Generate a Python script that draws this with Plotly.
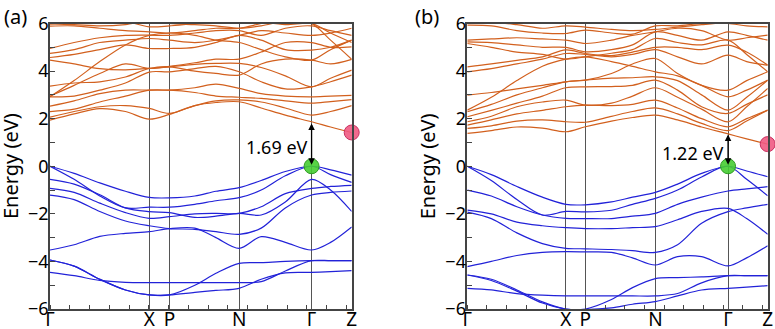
import plotly.graph_objects as go

# ---------------- data ----------------
# k-path sample positions (fraction of path length)
k_a = [0, 0.08, 0.165, 0.25, 0.329, 0.396, 0.48, 0.55, 0.627, 0.70, 0.78, 0.867, 0.93, 1.0]
k_b = [0, 0.08, 0.165, 0.25, 0.328, 0.393, 0.48, 0.55, 0.626, 0.70, 0.78, 0.868, 0.93, 1.0]
sym_idx = [0, 4, 5, 8, 11, 13]
sym_labels = ["Γ", "X", "P", "N", "Γ", "Z"]

# panel (a) valence bands (eV)
val_a = [
    [0, -0.3, -0.7, -1.05, -1.31, -1.33, -1.25, -1.05, -0.9, -0.6, -0.22, 0, -0.15, -0.37],
    [0, -0.55, -1.25, -1.75, -1.72, -1.72, -1.6, -1.45, -1.32, -1.0, -0.4, 0, -0.35, -0.68],
    [-0.55, -0.75, -1.2, -1.75, -1.91, -1.95, -2.15, -2.1, -1.98, -2.05, -1.5, -0.55, -1.0, -1.9],
    [-0.93, -1.1, -1.55, -1.95, -2.19, -2.12, -2.0, -1.98, -1.98, -1.7, -1.15, -0.93, -0.85, -0.8],
    [-1.21, -1.4, -1.9, -2.3, -2.5, -2.62, -2.65, -2.75, -2.86, -2.6, -1.75, -1.21, -1.1, -1.04],
    [-3.52, -3.3, -2.95, -2.82, -2.75, -2.62, -2.6, -3.0, -3.45, -2.96, -3.2, -3.52, -3.2, -2.55],
    [-3.94, -4.2, -4.75, -5.2, -5.41, -5.41, -5.0, -4.5, -4.08, -4.05, -4.0, -3.97, -3.97, -3.97],
    [-3.94, -4.2, -4.75, -5.2, -5.41, -5.41, -5.3, -5.22, -5.13, -4.75, -4.48, -4.46, -4.43, -4.39],
    [-4.46, -4.6, -4.8, -4.88, -4.89, -4.89, -4.89, -4.89, -4.89, -4.85, -4.4, -3.97, -3.97, -3.97],
]
# panel (a) conduction bands (eV)
con_a = [
    [1.94, 2.2, 2.42, 2.3, 1.98, 2.18, 2.55, 2.68, 2.71, 2.45, 2.15, 1.87, 1.65, 1.42],
    [2.06, 2.3, 2.5, 2.55, 2.43, 2.22, 2.55, 2.75, 2.79, 2.7, 2.45, 2.15, 2.3, 2.55],
    [2.3, 2.4, 2.7, 2.95, 3.2, 3.2, 3.1, 2.95, 2.9, 2.85, 2.75, 2.65, 2.72, 2.8],
    [2.53, 2.75, 3.05, 3.2, 3.2, 3.2, 3.3, 3.45, 3.27, 3.05, 2.95, 2.92, 2.95, 2.98],
    [2.92, 2.95, 3.2, 3.5, 3.96, 3.97, 4.1, 4.2, 3.97, 3.55, 3.25, 3.34, 3.55, 3.83],
    [2.95, 3.4, 3.9, 4.3, 4.11, 4.18, 4.28, 4.32, 4.32, 4.15, 3.8, 3.34, 3.7, 4.04],
    [3.37, 3.5, 3.55, 3.75, 4.11, 4.18, 4.0, 3.9, 3.83, 4.3, 4.5, 4.46, 4.3, 4.49],
    [2.92, 3.6, 4.4, 5.1, 5.5, 5.6, 5.5, 5.3, 5.2, 4.9, 4.6, 4.46, 4.9, 5.3],
    [4.46, 4.3, 4.1, 4.05, 4.11, 4.2, 4.35, 4.5, 4.5, 4.8, 5.2, 5.2, 5.0, 5.02],
    [4.57, 4.7, 4.9, 5.1, 4.95, 4.95, 5.0, 5.2, 5.5, 5.3, 4.9, 4.88, 5.0, 5.3],
    [4.74, 4.9, 5.2, 5.3, 5.37, 5.3, 5.2, 5.3, 5.5, 5.7, 5.6, 5.5, 5.6, 5.8],
    [4.95, 5.2, 5.4, 5.5, 5.51, 5.5, 5.6, 5.7, 5.7, 5.5, 5.8, 5.9, 5.7, 5.5],
    [5.89, 5.9, 5.8, 5.7, 5.65, 5.6, 5.7, 5.8, 5.8, 6.0, 6.2, 6.0, 5.3, 4.5],
    [5.98, 6.1, 6.3, 6.1, 5.86, 5.9, 6.0, 6.2, 6.3, 6.1, 5.95, 6.0, 5.6, 5.2],
    [5.98, 5.95, 5.9, 5.95, 6.1, 6.0, 5.95, 5.9, 5.8, 5.9, 6.1, 6.1, 6.2, 6.0],
]
# panel (b) valence bands (eV)
val_b = [
    [0, -0.35, -0.85, -1.3, -1.6, -1.62, -1.5, -1.3, -1.1, -0.75, -0.3, 0, -0.2, -0.44],
    [0, -0.6, -1.4, -2.05, -1.9, -1.92, -1.85, -1.6, -1.35, -1.0, -0.45, 0, -0.55, -1.24],
    [-1.0, -1.25, -1.7, -2.05, -2.19, -2.2, -2.2, -2.1, -1.98, -1.6, -1.3, -1.04, -0.95, -0.86],
    [-1.84, -2.0, -2.35, -2.5, -2.58, -2.62, -2.62, -2.58, -2.54, -2.25, -1.9, -1.77, -2.2, -2.86],
    [-1.93, -2.2, -2.8, -3.25, -3.45, -3.47, -3.5, -3.55, -3.62, -3.3, -2.4, -1.91, -1.75, -1.6],
    [-4.22, -4.0, -3.75, -3.62, -3.59, -3.6, -3.62, -3.85, -4.15, -3.8, -3.8, -4.19, -3.85, -3.34],
    [-4.57, -4.75, -5.2, -5.7, -6.0, -6.0, -5.6, -5.1, -4.72, -4.68, -4.65, -4.6, -4.6, -4.6],
    [-4.57, -4.8, -5.25, -5.75, -6.0, -6.02, -5.95, -5.8, -5.69, -5.45, -5.2, -5.13, -5.08, -5.02],
    [-5.13, -5.2, -5.35, -5.42, -5.45, -5.45, -5.45, -5.45, -5.45, -5.35, -4.9, -4.6, -4.6, -4.6],
]
# panel (b) conduction bands (eV)
con_b = [
    [1.38, 1.5, 1.65, 1.6, 1.45, 1.66, 1.9, 2.05, 2.15, 1.95, 1.65, 1.36, 1.15, 0.93],
    [1.59, 1.7, 1.9, 1.95, 1.87, 1.85, 2.1, 2.3, 2.45, 2.2, 1.8, 1.5, 1.9, 2.36],
    [1.73, 1.95, 2.2, 2.35, 2.5, 2.57, 2.55, 2.6, 2.78, 2.45, 2.0, 1.66, 2.0, 2.36],
    [1.87, 2.1, 2.5, 2.7, 2.78, 2.57, 2.65, 2.95, 3.3, 2.9, 2.4, 1.87, 2.5, 3.27],
    [2.08, 2.35, 2.65, 2.95, 3.3, 3.34, 3.35, 3.4, 3.62, 3.2, 2.5, 2.22, 2.6, 3.0],
    [2.29, 2.6, 3.0, 3.3, 3.55, 3.62, 3.7, 3.72, 3.76, 3.6, 3.0, 2.36, 2.9, 3.62],
    [2.36, 2.9, 3.6, 4.2, 4.5, 4.6, 4.4, 4.2, 3.97, 3.8, 3.4, 2.92, 3.2, 3.62],
    [2.99, 3.1, 3.25, 3.4, 3.55, 3.62, 3.9, 4.3, 4.53, 3.9, 3.4, 3.2, 3.6, 3.97],
    [3.97, 4.1, 4.3, 4.5, 4.74, 4.7, 4.6, 4.7, 4.9, 4.6, 4.3, 4.67, 4.4, 4.25],
    [4.18, 4.3, 4.45, 4.6, 4.89, 4.74, 4.65, 4.8, 5.0, 5.0, 4.9, 5.09, 4.8, 4.25],
    [5.16, 5.0, 4.8, 4.7, 4.5, 4.6, 4.75, 4.9, 5.37, 5.2, 5.1, 5.3, 4.7, 3.97],
    [5.23, 5.2, 5.1, 5.0, 5.0, 4.81, 4.9, 5.1, 5.65, 5.5, 5.3, 5.65, 5.5, 5.3],
    [5.3, 5.35, 5.4, 5.35, 5.3, 5.16, 5.3, 5.5, 5.65, 5.8, 5.7, 5.3, 5.4, 5.51],
    [5.93, 5.9, 5.7, 5.6, 5.58, 5.72, 5.6, 5.55, 5.9, 5.9, 6.0, 6.0, 5.9, 5.86],
    [6.0, 6.05, 5.95, 5.8, 5.9, 5.85, 5.75, 5.7, 5.75, 5.85, 5.95, 6.05, 6.1, 6.0],
]

# band edges and gaps
vbm = [0.0, 0.0]
cbm_z = [1.42, 0.93]
arrow_top = [1.8, 1.33]
gap_text = ["1.69 eV", "1.22 eV"]
panel_labels = ["(a)", "(b)"]
y_ticks = [-6, -4, -2, 0, 2, 4, 6]

# ---------------- styling ----------------
FONT = "Noto Sans"
BLUE = "#2222d8"
ORANGE = "#d2601e"
AXC = "#444444"
W, H = 775, 329

fig = go.Figure()

panels = [
    (k_a, val_a, con_a, "x", "y"),
    (k_b, val_b, con_b, "x2", "y2"),
]

for p, (k, vals, cons, xa, ya) in enumerate(panels):
    for band in vals:
        fig.add_trace(go.Scatter(x=k, y=band, mode="lines", xaxis=xa, yaxis=ya,
                                 line=dict(color=BLUE, width=1.2, shape="spline", smoothing=0.9),
                                 hoverinfo="skip", showlegend=False))
    for band in cons:
        fig.add_trace(go.Scatter(x=k, y=band, mode="lines", xaxis=xa, yaxis=ya,
                                 line=dict(color=ORANGE, width=1.2, shape="spline", smoothing=0.9),
                                 hoverinfo="skip", showlegend=False))
    kg = k[sym_idx[4]]
    kz = k[sym_idx[5]]
    fig.add_trace(go.Scatter(x=[kg], y=[vbm[p]], mode="markers", xaxis=xa, yaxis=ya,
                             marker=dict(size=15, color="rgba(70,205,50,0.9)",
                                         line=dict(color="#2e9a22", width=1)),
                             cliponaxis=False, hoverinfo="skip", showlegend=False))
    fig.add_trace(go.Scatter(x=[kz], y=[cbm_z[p]], mode="markers", xaxis=xa, yaxis=ya,
                             marker=dict(size=15, color="rgba(240,90,130,0.9)",
                                         line=dict(color="#c83060", width=1)),
                             cliponaxis=False, hoverinfo="skip", showlegend=False))
    # double arrow for the gap
    fig.add_annotation(x=kg, y=arrow_top[p], ax=kg, ay=vbm[p], xref=xa, yref=ya,
                       axref=xa, ayref=ya, text="", showarrow=True,
                       arrowhead=2, startarrowhead=2, arrowside="end+start",
                       arrowsize=1, startarrowsize=1, arrowwidth=1.3, arrowcolor="black",
                       standoff=0, startstandoff=0)
    fig.add_annotation(x=kg, y=(arrow_top[p] + vbm[p]) / 2 - 0.1, xref=xa, yref=ya,
                       text=gap_text[p], showarrow=False, xanchor="right", yanchor="middle",
                       xshift=-2, font=dict(family=FONT, size=18, color="black"))

ydom = [1 - 309 / H, 1 - 23.5 / H]
xdoms = [[50 / W, 351.7 / W], [467.3 / W, 767.7 / W]]

axis_common = dict(showline=True, linecolor=AXC, linewidth=1.5, mirror=True, zeroline=False)

for p, (k, _, _, xa, ya) in enumerate(panels):
    xname = "xaxis" if p == 0 else "xaxis2"
    yname = "yaxis" if p == 0 else "yaxis2"
    fig.layout[xname] = dict(
        domain=xdoms[p], range=[0, 1], anchor=ya,
        tickmode="array", tickvals=[k[i] for i in sym_idx], ticktext=sym_labels,
        ticks="", showgrid=True, gridcolor="#555555", gridwidth=1,
        ticklabelstandoff=-8,
        tickfont=dict(family=FONT, size=19, color="black"),
        minor=dict(ticks="inside", ticklen=4, tickcolor=AXC, dtick=0.0655, tick0=0, showgrid=False),
        automargin=False, fixedrange=True, **axis_common)
    fig.layout[yname] = dict(
        domain=ydom, range=[-6, 6], anchor=xa,
        tickmode="array", tickvals=y_ticks,
        ticks="inside", ticklen=5, tickcolor=AXC, showgrid=False,
        ticklabelstandoff=-4,
        tickfont=dict(family=FONT, size=18, color="black"),
        minor=dict(ticks="inside", ticklen=5, tickcolor=AXC, dtick=1, tick0=0, showgrid=False),
        automargin=False, fixedrange=True, **axis_common)

# y-axis titles and panel labels
label_left_px = [2, 413]
for p in range(2):
    left = xdoms[p][0]
    fig.add_annotation(x=left - 40 / W, y=1 - 166 / H, xref="paper", yref="paper",
                       text="Energy (eV)", textangle=-90, showarrow=False,
                       xanchor="center", yanchor="middle",
                       font=dict(family=FONT, size=20, color="black"))
    fig.add_annotation(x=label_left_px[p] / W, y=1 - 1 / H, xref="paper", yref="paper",
                       text=panel_labels[p], showarrow=False, xanchor="left", yanchor="top",
                       font=dict(family=FONT, size=20, color="black"))

fig.update_layout(width=W, height=H, margin=dict(l=0, r=0, t=0, b=0),
                  plot_bgcolor="white", paper_bgcolor="white", showlegend=False)

fig.write_html("out.html", config={"displayModeBar": False},
               post_script="document.body.style.margin='0';document.body.style.overflow='hidden';")
